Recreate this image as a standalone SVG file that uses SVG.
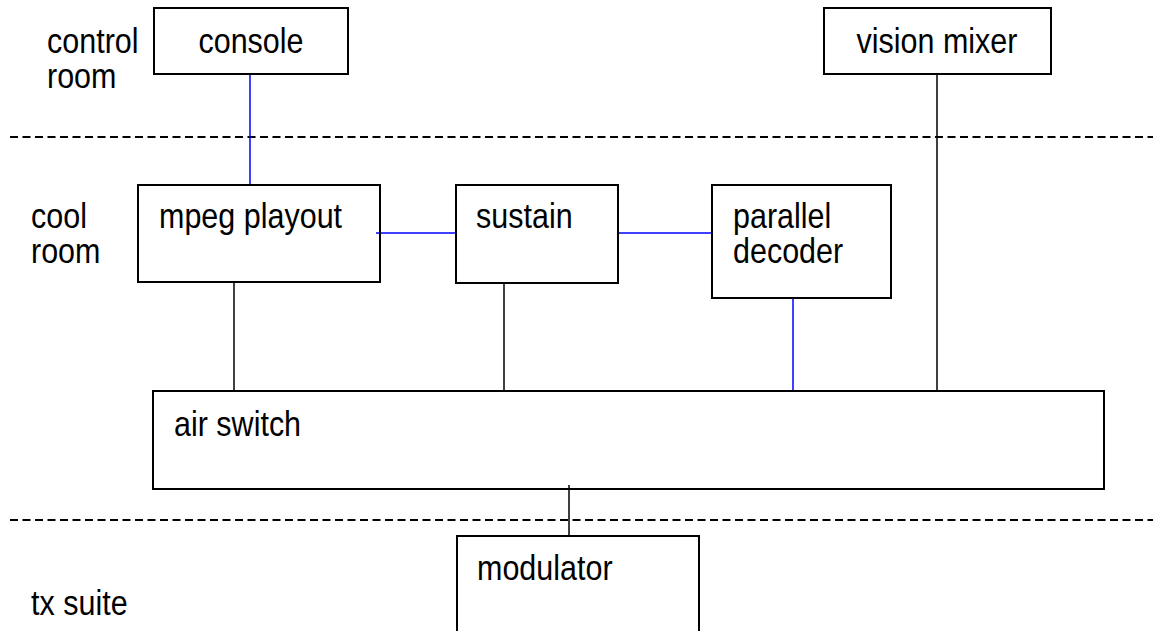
<svg xmlns="http://www.w3.org/2000/svg" width="1153" height="631" viewBox="0 0 1153 631">
<style>
.box{fill:#fff;stroke:#000;stroke-width:2}
.t{font-family:"Liberation Sans",Arial,sans-serif;font-size:30.5px;fill:#000}
.blk{stroke:#000;stroke-width:1.5;fill:none}
.blu{stroke:#0000ff;stroke-width:1.5;fill:none}
.dash{stroke:#000;stroke-width:2;stroke-dasharray:8 4.5;fill:none}
</style>
<rect width="1153" height="631" fill="#fff"/>
<g id="dividers">
<line class="dash" x1="10" y1="137" x2="1153" y2="137"/>
<line class="dash" x1="10" y1="520" x2="1153" y2="520"/>
</g>
<g id="zone-labels">
<text class="t" transform="translate(47,53) scale(1,1.12)">control</text>
<text class="t" transform="translate(47,88) scale(1,1.12)">room</text>
<text class="t" transform="translate(31,228) scale(1,1.12)">cool</text>
<text class="t" transform="translate(31,263) scale(1,1.12)">room</text>
<text class="t" transform="translate(31,615) scale(1,1.12)">tx suite</text>
</g>
<g id="connectors">
<line class="blu" x1="250" y1="72" x2="250" y2="185"/>
<line class="blu" x1="376" y1="233" x2="457" y2="233"/>
<line class="blu" x1="616" y1="233" x2="712" y2="233"/>
<line class="blu" x1="793" y1="296" x2="793" y2="391"/>
<line class="blk" x1="234" y1="283" x2="234" y2="391"/>
<line class="blk" x1="504" y1="280" x2="504" y2="391"/>
<line class="blk" x1="937" y1="72" x2="937" y2="391"/>
<line class="blk" x1="569" y1="485" x2="569" y2="536"/>
</g>
<g id="console">
<rect class="box" x="154" y="8" width="194" height="66"/>
<text class="t" text-anchor="middle" transform="translate(251,53) scale(1,1.12)">console</text>
</g>
<g id="vision-mixer">
<rect class="box" x="824" y="8" width="227" height="66"/>
<text class="t" text-anchor="middle" transform="translate(937,53) scale(1,1.12)">vision mixer</text>
</g>
<g id="mpeg-playout">
<rect class="box" x="138" y="185" width="242" height="97" style="fill:none"/>
<text class="t" transform="translate(159,228) scale(1,1.12)">mpeg playout</text>
</g>
<g id="sustain">
<rect class="box" x="456" y="185" width="162" height="98"/>
<text class="t" transform="translate(476,228) scale(1,1.12)">sustain</text>
</g>
<g id="parallel-decoder">
<rect class="box" x="712" y="185" width="179" height="113"/>
<text class="t" transform="translate(733,228) scale(1,1.12)">parallel</text>
<text class="t" transform="translate(733,263) scale(1,1.12)">decoder</text>
</g>
<g id="air-switch">
<rect class="box" x="153" y="391" width="951" height="98" style="fill:none"/>
<text class="t" transform="translate(174,436) scale(1,1.12)">air switch</text>
</g>
<g id="modulator">
<rect class="box" x="457" y="536" width="242" height="110"/>
<text class="t" transform="translate(477,580) scale(1,1.12)">modulator</text>
</g>
</svg>
